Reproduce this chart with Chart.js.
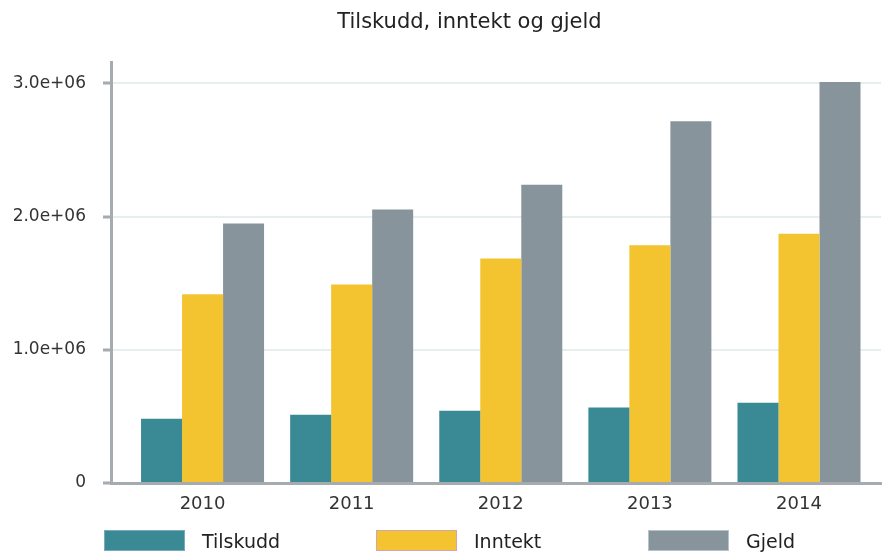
<!DOCTYPE html>
<html>
<head>
<meta charset="utf-8">
<script src="https://cdn.jsdelivr.net/npm/chart.js@4"></script>
<style>
  html, body { margin: 0; padding: 0; background: #fff; }
  #wrap { position: relative; width: 882px; height: 554px; overflow: hidden; font-family: "DejaVu Sans", sans-serif; }
  #chart-box { position: absolute; left: 0; top: 0; width: 882px; height: 554px; }
  #title { position: absolute; left: 57px; right: 0; top: 9px; text-align: center; font-size: 21px; line-height: 24px; color: #222; }
  #legend { position: absolute; left: 104px; top: 530px; display: flex; }
  .item { width: 272px; display: flex; align-items: flex-start; }
  .swatch { width: 81px; height: 21px; box-sizing: border-box; border: 1px solid transparent; }
  .label { margin-left: 17px; font-size: 19px; line-height: 22px; color: #222; }
</style>
</head>
<body>
<div id="wrap">
  <div id="chart-box"><canvas id="chart"></canvas></div>
  <div id="title">Tilskudd, inntekt og gjeld</div>
  <div id="legend"></div>
</div>
<script>
const years = [2010, 2011, 2012, 2013, 2014];
const tilskudd = [482000, 512000, 542000, 566000, 603000];
const inntekt = [1417000, 1490000, 1685000, 1785000, 1871000];
const gjeld = [1948000, 2053000, 2239000, 2716000, 3009000];
const yTicks = [0, 1000000, 2000000, 3000000];

const series = [
  { label: 'Tilskudd', values: tilskudd, color: '#3a8a96', edge: '#7fa6bf' },
  { label: 'Inntekt', values: inntekt, color: '#f4c430', edge: '#d6a3b2' },
  { label: 'Gjeld', values: gjeld, color: '#88949c', edge: '#b3c4cf' }
];

function fmtTick(v) {
  if (v === 0) return '0';
  return v.toExponential(1).replace(/e([+-])(\d)$/, 'e$10$2');
}

new Chart(document.getElementById('chart'), {
  type: 'bar',
  data: {
    datasets: series.map(s => ({
      label: s.label,
      data: years.map((yr, i) => ({ x: yr, y: s.values[i] })),
      backgroundColor: s.color,
      borderWidth: 0,
      categoryPercentage: 0.825,
      barPercentage: 1.0
    }))
  },
  options: {
    responsive: true,
    maintainAspectRatio: false,
    animation: false,
    layout: { padding: { top: 62, right: 1, left: 0, bottom: 0 } },
    plugins: {
      legend: { display: false },
      title: { display: false },
      tooltip: { enabled: false }
    },
    scales: {
      x: {
        type: 'linear',
        offset: false,
        min: 2009.386,
        max: 2014.55,
        afterFit: scale => { scale.height = 71; },
        afterBuildTicks: scale => { scale.ticks = years.map(v => ({ value: v })); },
        grid: { display: false, drawTicks: false, offset: false },
        border: { display: true, color: '#a5abae', width: 3 },
        ticks: {
          padding: 11,
          color: '#333',
          font: { family: 'DejaVu Sans', size: 18 },
          callback: v => String(v)
        }
      },
      y: {
        min: 0,
        max: 3160000,
        afterFit: scale => { scale.width = 111; },
        afterBuildTicks: scale => { scale.ticks = yTicks.map(v => ({ value: v })); },
        grid: { color: '#e6eef0', lineWidth: 2, tickLength: 8, tickColor: '#a5abae', tickWidth: 3 },
        border: { display: true, color: '#a5abae', width: 3 },
        ticks: {
          padding: 17,
          color: '#333',
          font: { family: 'DejaVu Sans', size: 17 },
          callback: v => fmtTick(v)
        }
      }
    }
  }
});

document.getElementById('legend').innerHTML = series.map(s => `
  <div class="item">
    <span class="swatch" style="background:${s.color};border-color:${s.edge}"></span>
    <span class="label">${s.label}</span>
  </div>`).join('');
</script>
</body>
</html>
